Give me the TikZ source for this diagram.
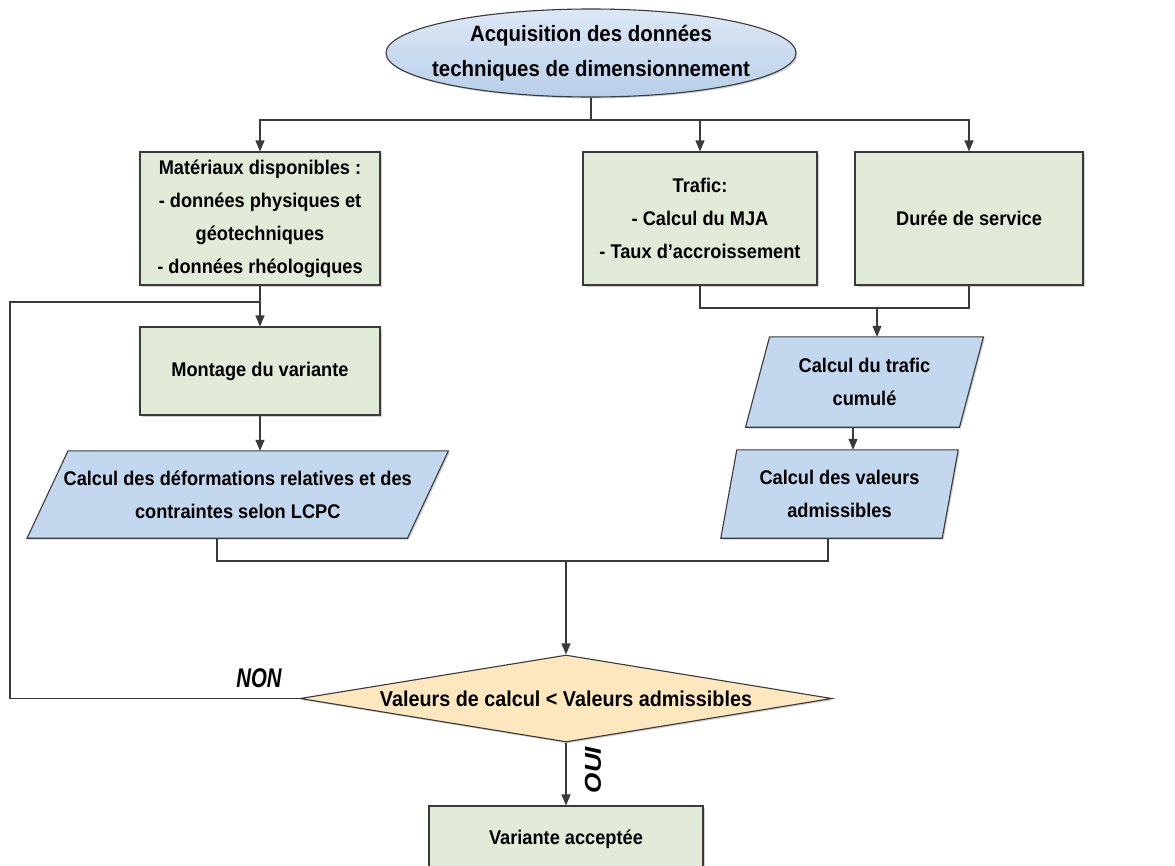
\documentclass[tikz,border=0pt]{standalone}
\usepackage{fontspec}
\setmainfont{Liberation Sans}[FakeStretch=0.92]
\usetikzlibrary{shapes.geometric,arrows.meta,calc,shadows}
\definecolor{boxgreen}{HTML}{E2EBD8}
\definecolor{parablue}{HTML}{C3D8EF}
\definecolor{decfill}{HTML}{FCE7BF}
\definecolor{edge}{HTML}{3A3A3A}
\definecolor{ellTop}{HTML}{DDE8F5}
\definecolor{ellBot}{HTML}{B8CFEA}
\pgfdeclarelayer{bg}
\pgfsetlayers{bg,main}
\newcommand{\paradraw}[2]{%
  \path[fill=black,opacity=0.18] ($(#1.north west)+(#2+1.5,1.5)$) -- ($(#1.north east)+(#2+1.5,1.5)$) -- ($(#1.south east)+(-#2+1.5,1.5)$) -- ($(#1.south west)+(-#2+1.5,1.5)$) -- cycle;
  \path[pshape] ($(#1.north west)+(#2,0)$) -- ($(#1.north east)+(#2,0)$) -- ($(#1.south east)+(-#2,0)$) -- ($(#1.south west)+(-#2,0)$) -- cycle;}
\begin{document}
\begin{tikzpicture}[x=1pt,y=-1pt,
  line/.style={draw=edge, line width=1.2pt},
  arr/.style={line, -{Triangle[length=11pt,width=9pt]}},
  txt/.style={font=\fontsize{19.8}{33}\selectfont\bfseries, align=center, text=black},
  shadowed/.style={drop shadow={shadow xshift=1.5pt,shadow yshift=-1.5pt,fill=black,opacity=0.18}},
  gbox/.style={txt, rectangle, draw=edge, line width=1.1pt, fill=boxgreen, inner sep=0pt, shadowed},
  pnode/.style={txt, rectangle, inner sep=0pt},
  pshape/.style={draw=edge, line width=1.1pt, fill=parablue},
  decbox/.style={diamond, draw=edge, line width=1.1pt, fill=decfill, inner sep=0pt, shape aspect=6.1, font=\fontsize{21.5}{24}\selectfont\bfseries, shadowed},
  lab/.style={font=\fontsize{27}{29}\selectfont\bfseries\itshape}
]
\useasboundingbox (0,0) rectangle (1175,865);
\clip (0,0) rectangle (1175,865);

% nodes
\node[ellipse, draw=edge, line width=1.1pt, top color=ellTop, bottom color=ellBot,
      minimum width=410pt, minimum height=88pt, inner sep=0pt, shadowed,
      label={[txt, font=\fontsize{22.2}{35}\selectfont\bfseries]center:{Acquisition des données\\techniques de dimensionnement}}] (ell) at (591,53) {};
\node[gbox, minimum width=240pt, minimum height=133pt] (mat) at (260,218.5) {Matériaux disponibles :\\- données physiques et\\géotechniques\\- données rhéologiques};
\node[gbox, minimum width=234pt, minimum height=133pt] (traf) at (700,218.5) {Trafic:\\- Calcul du MJA\\- Taux d’accroissement};
\node[gbox, minimum width=228pt, minimum height=133pt] (dur) at (969,218.5) {Durée de service};
\node[gbox, minimum width=240pt, minimum height=88pt] (mont) at (260,371) {Montage du variante};
\node[pnode, minimum width=380pt, minimum height=87pt] (para1) at (237.75,494.5) {Calcul des déformations relatives et des\\contraintes selon LCPC};
\node[pnode, minimum width=213.5pt, minimum height=90pt] (para2) at (864.5,382) {Calcul du trafic\\cumulé};
\node[pnode, minimum width=221pt, minimum height=88pt] (para3) at (839.5,494) {Calcul des valeurs\\admissibles};
\node[decbox, minimum width=532pt, minimum height=87pt] (dec) at (566,698.5) {Valeurs de calcul < Valeurs admissibles};
\node[gbox, minimum width=274pt, minimum height=66pt] (ok) at (566,839) {Variante acceptée};
\node[lab] (non) at (259,678) {\scalebox{0.82}[1]{NON}};
\node[lab, rotate=90] (oui) at (593,770) {\scalebox{1.05}[0.85]{OUI}};

\begin{pgfonlayer}{bg}
  \fill[white] (0,0) rectangle (1175,865);
  \paradraw{para1}{20.5}
  \paradraw{para2}{12}
  \paradraw{para3}{8}
\end{pgfonlayer}

% connectors
\coordinate (j1) at (591,120);
\draw[line] (ell.south) -- (j1);
\draw[arr] (j1) -| (mat.north);
\draw[arr] (j1) -| (traf.north);
\draw[arr] (j1) -| (dur.north);
\draw[arr] (mat.south) -- (mont.north);
\draw[arr] (mont.south) -- (mont.south |- para1.north);
\coordinate (j2) at (877,308);
\draw[line] (traf.south) |- (j2) -| (dur.south);
\draw[arr] (j2) -- (j2 |- para2.north);
\coordinate (k23) at (853,0);
\draw[arr] (k23 |- para2.south) -- (k23 |- para3.north);
\coordinate (j3) at (566,561);
\coordinate (k1) at (217,0);
\coordinate (k3) at (828,0);
\draw[line] (k1 |- para1.south) |- (j3) -| (k3 |- para3.south);
\draw[arr] (j3) -- (dec.north);
\coordinate (l1) at (10,302);
\coordinate (l0) at (260,302);
\draw[line] (dec.west) -| (l1) -- (l0);
\draw[arr] (dec.south) -- (ok.north);
\end{tikzpicture}
\end{document}
